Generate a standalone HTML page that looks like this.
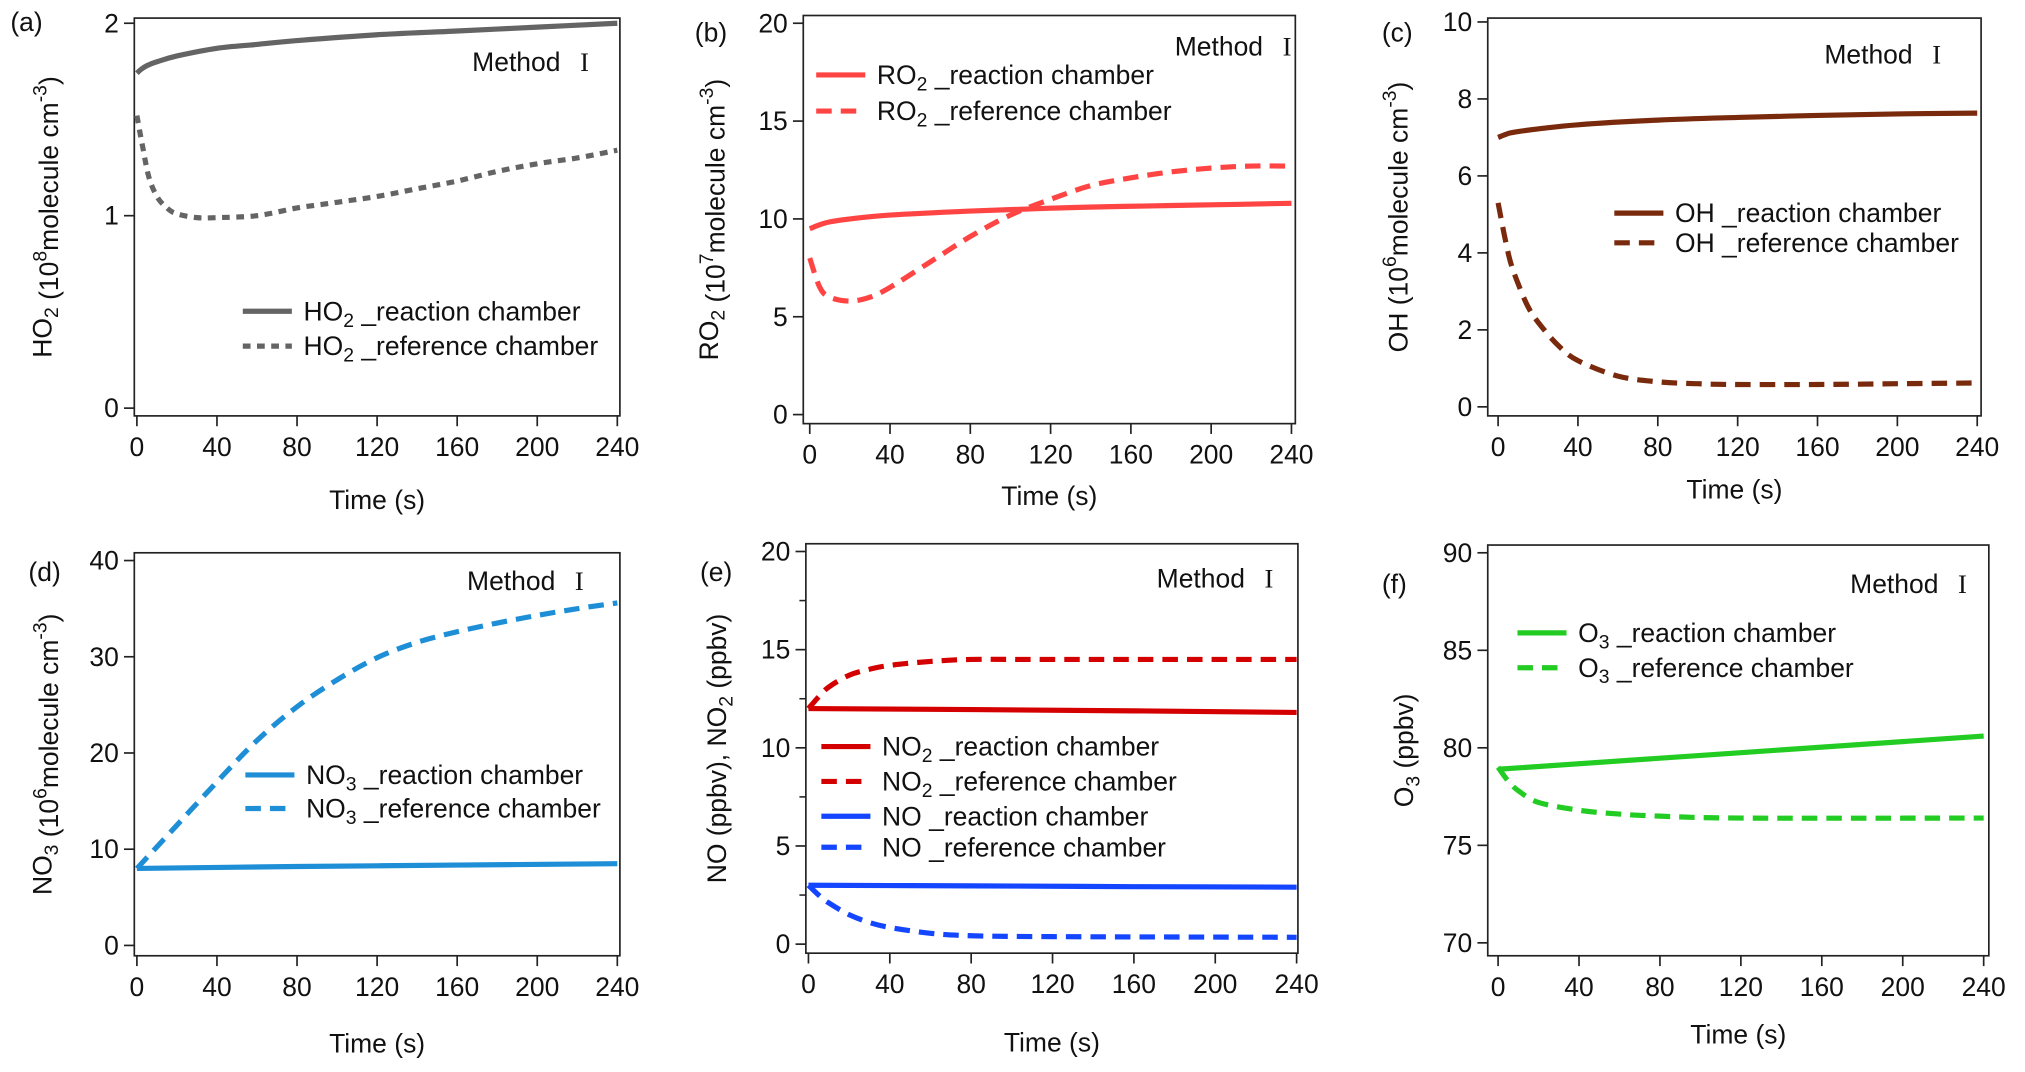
<!DOCTYPE html>
<html><head><meta charset="utf-8"><style>
html,body{margin:0;padding:0;background:#fff}
svg{display:block;font-family:"Liberation Sans",Arial,sans-serif}
</style></head><body>
<svg id="fig" width="2025" height="1072" viewBox="0 0 1568 830" preserveAspectRatio="none"></svg>
<script>
const timeTicks=[0,40,80,120,160,200,240];
const aTime=[0,2,5,10,20,40,60,80,120,160,200,240];
const aReaction=[1.74,1.76,1.78,1.80,1.83,1.87,1.89,1.91,1.94,1.96,1.98,2.0];
const aRefTime=[0,3,6,10,15,20,30,40,60,80,100,120,140,160,180,200,220,240];
const aReference=[1.52,1.35,1.2,1.1,1.04,1.01,0.99,0.99,1.0,1.04,1.07,1.1,1.14,1.18,1.23,1.27,1.3,1.34];
const bTime=[0,5,10,20,40,80,120,160,200,240];
const bReaction=[9.5,9.7,9.85,10.0,10.2,10.4,10.55,10.65,10.72,10.8];
const bRefTime=[0,5,10,20,30,40,60,80,100,120,140,160,180,200,220,240];
const bReference=[8,6.5,6.0,5.8,6.0,6.5,7.8,9.1,10.2,11.0,11.7,12.1,12.4,12.6,12.7,12.7];
const cTime=[0,5,10,20,40,80,120,160,200,240];
const cReaction=[7.0,7.1,7.15,7.22,7.33,7.45,7.52,7.57,7.61,7.63];
const cRefTime=[0,3,6,10,15,20,30,40,60,80,100,120,160,200,240];
const cReference=[5.3,4.5,3.8,3.2,2.6,2.2,1.6,1.2,0.8,0.65,0.6,0.58,0.58,0.6,0.62];
const dTime=[0,80,160,240];
const dReaction=[8.0,8.2,8.35,8.5];
const dRefTime=[0,20,40,60,80,100,120,140,160,180,200,220,240];
const dReference=[8,12.5,17,21.3,24.8,27.6,29.9,31.5,32.6,33.5,34.3,35,35.6];
const eTime=[0,80,160,240];
const eNO2Reaction=[12,11.95,11.88,11.8];
const eRefTime=[0,5,10,20,30,40,60,80,120,240];
const eNO2Reference=[12,12.6,13.1,13.7,14.0,14.2,14.4,14.5,14.5,14.5];
const eNOReaction=[3.0,2.97,2.93,2.9];
const eNOReference=[3,2.5,2.1,1.5,1.1,0.85,0.55,0.43,0.38,0.35];
const fTime=[0,240];
const fReaction=[78.9,80.6];
const fRefTime=[0,5,10,20,40,60,80,120,240];
const fReference=[79,78.3,77.8,77.2,76.8,76.6,76.5,76.4,76.4];

const NS="http://www.w3.org/2000/svg";
const svg=document.getElementById('fig');
function mk(tag,attrs,parent,text){const e=document.createElementNS(NS,tag);for(const k in attrs)e.setAttribute(k,attrs[k]);if(text!==undefined)e.textContent=text;(parent||svg).appendChild(e);return e;}
function smooth(pts){
  let d='M'+pts[0][0].toFixed(1)+','+pts[0][1].toFixed(1);
  for(let i=0;i<pts.length-1;i++){
    const p0=pts[i-1]||pts[i],p1=pts[i],p2=pts[i+1],p3=pts[i+2]||p2;
    const c1=[p1[0]+(p2[0]-p0[0])/6,p1[1]+(p2[1]-p0[1])/6];
    const c2=[p2[0]-(p3[0]-p1[0])/6,p2[1]-(p3[1]-p1[1])/6];
    d+=` C${c1[0].toFixed(1)},${c1[1].toFixed(1)} ${c2[0].toFixed(1)},${c2[1].toFixed(1)} ${p2[0].toFixed(1)},${p2[1].toFixed(1)}`;
  }
  return d;
}
const FS=20.5;
function panel(p){
  const g=mk('g',{});
  
  
  const sx=t=>p.x0+(t-0)/240*(p.x1-p.x0);
  const sy=v=>p.y0-(v-p.ymin)/(p.ymax-p.ymin)*(p.y0-p.y1);
  const fr=mk('rect',{x:p.L,y:p.T,width:p.R-p.L,height:p.B-p.T,fill:'none',stroke:'#222','stroke-width':1.3},g);
  
  timeTicks.forEach(t=>{
    mk('line',{x1:sx(t),x2:sx(t),y1:p.B,y2:p.B+8,stroke:'#222','stroke-width':1.3},g);
    const tl=mk('text',{x:sx(t),y:p.B+31,'font-size':FS,'text-anchor':'middle',fill:'#111'},g,String(t));
    
  });
  p.yticks.forEach(v=>{
    mk('line',{x1:p.L-8,x2:p.L,y1:sy(v),y2:sy(v),stroke:'#222','stroke-width':1.3},g);
    const tl=mk('text',{x:p.L-12,y:sy(v)+7,'font-size':FS,'text-anchor':'end',fill:'#111'},g,String(v));
    
  });
  (p.minor||[]).forEach(v=>mk('line',{x1:p.L-5,x2:p.L,y1:sy(v),y2:sy(v),stroke:'#222','stroke-width':1.2},g));
  const xt=mk('text',{x:(p.L+p.R)/2,y:p.timeY,'font-size':FS,'text-anchor':'middle',fill:'#111'},g,'Time (s)');
  
  const yt=mk('text',{transform:`translate(${p.ytx},${(p.T+p.B)/2}) rotate(-90)`,'font-size':FS,'text-anchor':'middle',fill:'#111'},g);
  
  yt.innerHTML=p.ytitle;
  const lab=mk('text',{x:p.lx,y:p.ly,'font-size':FS,fill:'#111'},g,'('+p.id+')');
  
  const me=mk('text',{x:p.mx-22,y:p.my,'font-size':FS,'text-anchor':'end',fill:'#111'},g,'Method');
  
  const mi=mk('text',{x:p.mx,y:p.my,'font-size':FS,'text-anchor':'end',fill:'#111','font-family':'"Liberation Serif",serif'},g,'I');
  
  p.series.forEach((s,i)=>{
    const d=smooth(s.t.map((t,j)=>[sx(t),sy(s.v[j])]));
    const path=mk('path',{d:d,fill:'none',stroke:s.c,'stroke-width':4,'stroke-dasharray':s.dash||'none','stroke-linejoin':'round'},g);
    
    const ly=p.legY[i];
    const ll=mk('line',{x1:p.legX,x2:p.legX+38,y1:ly,y2:ly,stroke:s.c,'stroke-width':4,'stroke-dasharray':s.dash||'none'},g);
    
    const lt=mk('text',{x:p.legX+47,y:ly+7,'font-size':FS,fill:'#111'},g);
    
    lt.innerHTML=s.label;
  });
}
const sub=s=>`<tspan dy="5" font-size="15">${s}</tspan><tspan dy="-5"> </tspan>`;
const unit=(e)=>` (10<tspan dy="-9" font-size="15">${e}</tspan><tspan dy="9">molecule cm</tspan><tspan dy="-9" font-size="15">-3</tspan><tspan dy="9">)</tspan>`;
panel({id:'a',L:104,R:480,T:14,B:322,x0:106,x1:478,y0:316,y1:18,ymin:0,ymax:2,yticks:[0,1,2],timeY:394,ytx:40,
  ytitle:'HO'+`<tspan dy="5" font-size="15">2</tspan><tspan dy="-5"></tspan>`+unit(8),lx:8,ly:24,mx:456,my:55,legX:188,legY:[241,268],
  series:[{name:'ho2-reaction',t:aTime,v:aReaction,c:'#646464',label:'HO'+sub(2)+'_reaction chamber'},
          {name:'ho2-reference',t:aRefTime,v:aReference,c:'#646464',dash:'6 5',label:'HO'+sub(2)+'_reference chamber'}]});
panel({id:'b',L:622,R:1003,T:12,B:328,x0:627,x1:1000,y0:321,y1:18,ymin:0,ymax:20,yticks:[0,5,10,15,20],timeY:391,ytx:556,
  ytitle:'RO'+`<tspan dy="5" font-size="15">2</tspan><tspan dy="-5"></tspan>`+unit(7),lx:538,ly:32,mx:1000,my:43,legX:632,legY:[58,86],
  series:[{name:'ro2-reaction',t:bTime,v:bReaction,c:'#ff4444',label:'RO'+sub(2)+'_reaction chamber'},
          {name:'ro2-reference',t:bRefTime,v:bReference,c:'#ff4444',dash:'12 7',label:'RO'+sub(2)+'_reference chamber'}]});
panel({id:'c',L:1152,R:1534,T:14,B:322,x0:1160,x1:1531,y0:315,y1:17,ymin:0,ymax:10,yticks:[0,2,4,6,8,10],timeY:386,ytx:1090,
  ytitle:'OH'+unit(6),lx:1070,ly:32,mx:1503,my:49,legX:1250,legY:[165,188],
  series:[{name:'oh-reaction',t:cTime,v:cReaction,c:'#7a2a0c',label:'OH _reaction chamber'},
          {name:'oh-reference',t:cRefTime,v:cReference,c:'#7a2a0c',dash:'12 7',label:'OH _reference chamber'}]});
panel({id:'d',L:104,R:480,T:428,B:740,x0:106,x1:478,y0:732,y1:434,ymin:0,ymax:40,yticks:[0,10,20,30,40],timeY:815,ytx:40,
  ytitle:'NO'+`<tspan dy="5" font-size="15">3</tspan><tspan dy="-5"></tspan>`+unit(6),lx:22,ly:450,mx:452,my:457,legX:190,legY:[600,626],
  series:[{name:'no3-reaction',t:dTime,v:dReaction,c:'#1e8ed6',label:'NO'+sub(3)+'_reaction chamber'},
          {name:'no3-reference',t:dRefTime,v:dReference,c:'#1e8ed6',dash:'12 7',label:'NO'+sub(3)+'_reference chamber'}]});
panel({id:'e',L:624,R:1005,T:421,B:738,x0:626,x1:1004,y0:731,y1:427,ymin:0,ymax:20,yticks:[0,5,10,15,20],minor:[2.5,7.5,12.5,17.5],timeY:814,ytx:562,
  ytitle:'NO (ppbv), NO'+`<tspan dy="5" font-size="15">2</tspan><tspan dy="-5"> (ppbv)</tspan>`,lx:542,ly:450,mx:986,my:455,legX:636,legY:[578,605,632,656],
  series:[{name:'no2-reaction',t:eTime,v:eNO2Reaction,c:'#d40000',label:'NO'+sub(2)+'_reaction chamber'},
          {name:'no2-reference',t:eRefTime,v:eNO2Reference,c:'#d40000',dash:'12 7',label:'NO'+sub(2)+'_reference chamber'},
          {name:'no-reaction',t:eTime,v:eNOReaction,c:'#1446ff',label:'NO _reaction chamber'},
          {name:'no-reference',t:eRefTime,v:eNOReference,c:'#1446ff',dash:'12 7',label:'NO _reference chamber'}]});
panel({id:'f',L:1152,R:1540,T:422,B:740,x0:1160,x1:1536,y0:730,y1:428,ymin:70,ymax:90,yticks:[70,75,80,85,90],timeY:808,ytx:1094,
  ytitle:'O'+`<tspan dy="5" font-size="15">3</tspan><tspan dy="-5"> (ppbv)</tspan>`,lx:1070,ly:459,mx:1523,my:459,legX:1175,legY:[490,517],
  series:[{name:'o3-reaction',t:fTime,v:fReaction,c:'#22cc22',label:'O'+sub(3)+'_reaction chamber'},
          {name:'o3-reference',t:fRefTime,v:fReference,c:'#22cc22',dash:'12 7',label:'O'+sub(3)+'_reference chamber'}]});
</script>
</body></html>
